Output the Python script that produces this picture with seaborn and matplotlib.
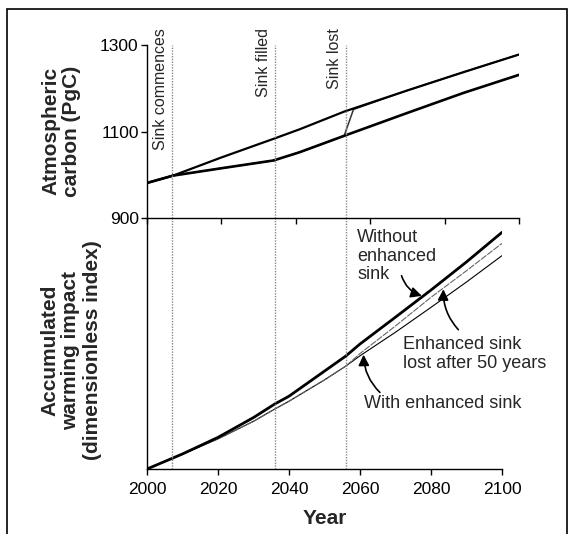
import numpy as np
import matplotlib
matplotlib.use("Agg")
import matplotlib.pyplot as plt
import matplotlib.transforms as mtransforms
from matplotlib.patches import Rectangle
import seaborn as sns

# atmospheric carbon (PgC), upper panel
carbon_years_without = [2000, 2007, 2020, 2034, 2041, 2053, 2070, 2085, 2100]
carbon_without = [981, 998, 1040, 1083, 1105, 1146, 1195, 1237, 1278]
carbon_years_with = [2000, 2007, 2020, 2034, 2041, 2053, 2070, 2085, 2100]
carbon_with = [981, 998, 1015, 1033, 1052, 1090, 1143, 1189, 1231]
carbon_years_lost = [2000, 2007, 2020, 2034, 2041, 2053, 2055.5, 2070, 2085, 2100]
carbon_lost = [981, 998, 1015, 1033, 1052, 1090, 1151, 1195, 1237, 1278]

# accumulated warming impact (dimensionless index), lower panel
impact_years = [2000, 2007, 2010, 2020, 2030, 2036, 2040, 2050, 2056, 2060, 2070, 2080, 2090, 2100]
impact_without = [0, 0.042, 0.06, 0.126, 0.205, 0.259, 0.29, 0.39, 0.45, 0.498, 0.605, 0.713, 0.825, 0.943]
impact_with = [0, 0.042, 0.059, 0.12, 0.19, 0.239, 0.27, 0.355, 0.41, 0.451, 0.545, 0.644, 0.745, 0.85]
impact_lost = [0, 0.042, 0.059, 0.12, 0.19, 0.239, 0.27, 0.355, 0.41, 0.46, 0.57, 0.684, 0.79, 0.899]

event_years = [2007, 2036, 2056]
event_labels = ["Sink commences", "Sink filled", "Sink lost"]

year_ticks = [2000, 2020, 2040, 2060, 2080, 2100]
carbon_ticks = [900, 1100, 1300]

sns.set_style("ticks", {"axes.edgecolor": "black", "xtick.color": "black", "ytick.color": "black"})
plt.rcParams["font.family"] = ["Liberation Sans", "DejaVu Sans"]

W, H = 574, 534
fig = plt.figure(figsize=(W / 100, H / 100), dpi=100)
ax_bot = fig.add_axes([147 / W, 1 - 469 / H, 355 / W, 251 / H])
ax_top = fig.add_axes([147 / W, 1 - 218 / H, 372 / W, 173 / H])
ax_bot.patch.set_visible(False)
ax_top.patch.set_visible(False)

# upper panel
sns.lineplot(x=carbon_years_lost, y=carbon_lost, ax=ax_top, color="#333333", linewidth=1.1)
sns.lineplot(x=carbon_years_without, y=carbon_without, ax=ax_top, color="black", linewidth=1.6)
sns.lineplot(x=carbon_years_with, y=carbon_with, ax=ax_top, color="black", linewidth=1.9)
ax_top.set_xlim(2000, 2100)
ax_top.set_ylim(900, 1300)
ax_top.set_yticks(carbon_ticks)
ax_top.set_xticks(year_ticks)
ax_top.tick_params(axis="x", labelbottom=False, direction="out", length=4, width=1)
ax_top.tick_params(axis="y", direction="out", length=4, width=1, labelsize=12.5, pad=2)
for side in ["top", "right"]:
    ax_top.spines[side].set_visible(False)
for side in ["left", "bottom"]:
    ax_top.spines[side].set_linewidth(1.0)

# lower panel
sns.lineplot(x=impact_years, y=impact_with, ax=ax_bot, color="black", linewidth=0.8)
sns.lineplot(x=impact_years, y=impact_lost, ax=ax_bot, color="#666666", linewidth=0.8, linestyle=(0, (6, 1)))
sns.lineplot(x=impact_years, y=impact_without, ax=ax_bot, color="black", linewidth=2.0)
ax_bot.set_xlim(2000, 2100)
ax_bot.set_ylim(0, 1)
ax_bot.set_yticks([])
ax_bot.set_xticks(year_ticks)
ax_bot.tick_params(axis="x", direction="out", length=4, width=1, labelsize=12.5, pad=5)
ax_bot.set_xlabel("Year", fontsize=15, fontweight="bold", labelpad=9)
for side in ["top", "right"]:
    ax_bot.spines[side].set_visible(False)
for side in ["left", "bottom"]:
    ax_bot.spines[side].set_linewidth(1.0)

# event lines cross both panels at the same horizontal position
trans = mtransforms.blended_transform_factory(ax_bot.transData, ax_top.transAxes)
for ev, lab in zip(event_years, event_labels):
    ax_bot.axvline(ev, color="#8a8a8a", linewidth=1.0, linestyle=(0, (1, 1)))
    ax_top.plot([ev, ev], [0, 1], transform=trans, color="#8a8a8a", linewidth=1.0,
                linestyle=(0, (1, 1)), clip_on=False)
    ax_top.annotate(lab, xy=(ev, 1), xycoords=trans, xytext=(-4, 17),
                    textcoords="offset pixels", rotation=90, ha="right", va="top",
                    fontsize=11.5)

# curve annotations
arrow = dict(arrowstyle="-|>", color="black", lw=1.2, mutation_scale=16, shrinkA=0, shrinkB=0)
ax_bot.text(2059.2, 0.955, "Without\nenhanced\nsink", ha="left", va="top", fontsize=13, linespacing=1.1)
ax_bot.annotate("", xy=(2077.4, np.interp(2077.4, impact_years, impact_without) + 0.005),
                xytext=(2071.7, 0.77),
                arrowprops=dict(arrow, connectionstyle="arc3,rad=0.25"))
ax_bot.text(2072.2, 0.53, "Enhanced sink\nlost after 50 years", ha="left", va="top", fontsize=13, linespacing=1.15)
ax_bot.annotate("", xy=(2083.5, np.interp(2083.5, impact_years, impact_lost) - 0.005),
                xytext=(2087.7, 0.555),
                arrowprops=dict(arrow, connectionstyle="arc3,rad=-0.2"))
ax_bot.text(2061.0, 0.262, "With enhanced sink", ha="left", va="center", fontsize=13)
ax_bot.annotate("", xy=(2061.0, np.interp(2061.0, impact_years, impact_with) - 0.005),
                xytext=(2065.6, 0.305),
                arrowprops=dict(arrow, connectionstyle="arc3,rad=-0.2"))

# axis titles
fig.text(61 / W, 1 - 131 / H, "Atmospheric\ncarbon (PgC)", rotation=90, ha="center", va="center",
         fontsize=15, fontweight="bold", linespacing=1.1, multialignment="center")
fig.text(71 / W, 1 - 350 / H, "Accumulated\nwarming impact\n(dimensionless index)", rotation=90,
         ha="center", va="center", fontsize=15, fontweight="bold", linespacing=1.15,
         multialignment="center")

# scanned panel frame
fig.patches.append(Rectangle((7 / W, -0.02), 560 / W, 1.02 - 9 / H, transform=fig.transFigure,
                             fill=False, edgecolor="black", linewidth=1.2))

fig.savefig("out.png", dpi=100)
